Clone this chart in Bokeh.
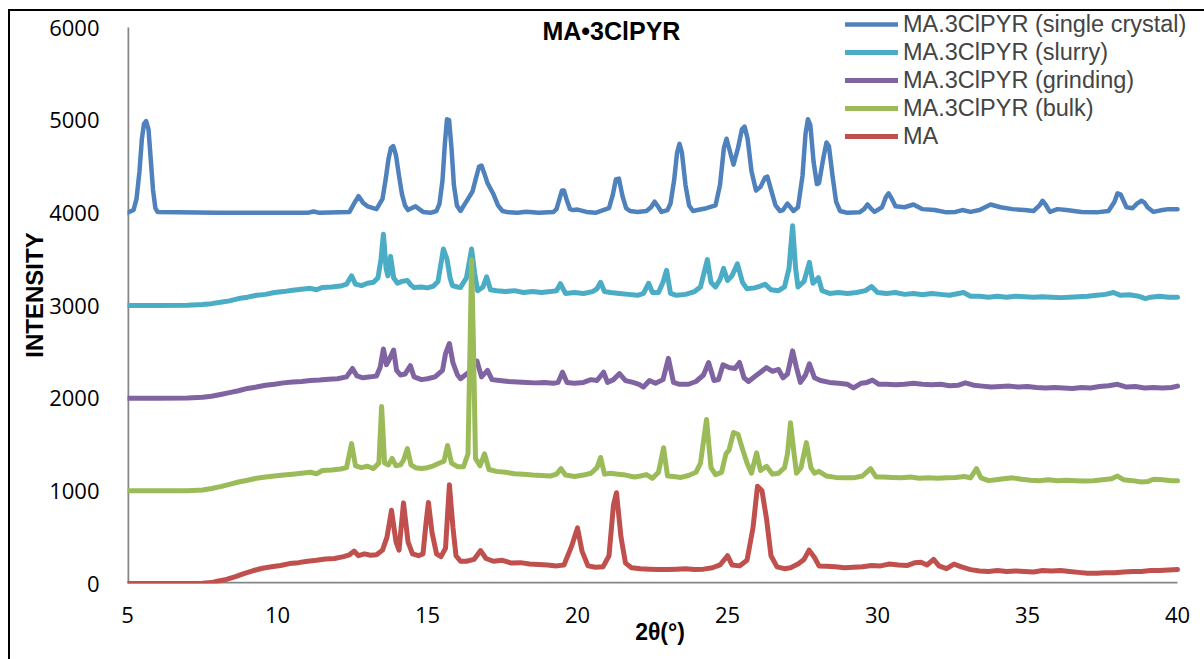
from bokeh.plotting import figure
from bokeh.models import Range1d, Legend, LegendItem, Label, FixedTicker
from bokeh.embed import file_html
from bokeh.resources import INLINE

# ---------------- data ----------------
x_ticks = [5, 10, 15, 20, 25, 30, 35, 40]
y_ticks = [0, 1000, 2000, 3000, 4000, 5000, 6000]

series_names = ["MA.3ClPYR (single crystal)", "MA.3ClPYR (slurry)",
                "MA.3ClPYR (grinding)", "MA.3ClPYR (bulk)", "MA"]
series_colors = ["#4F81BD", "#4BACC6", "#8064A2", "#9BBB59", "#C0504D"]

sc_x = [5.0, 5.2, 5.3, 5.4, 5.48, 5.55, 5.62, 5.7, 5.77, 5.85, 5.93, 6.0, 8.0, 11.0, 11.2, 11.4, 12.4, 12.55, 12.7,
        12.85, 13.0, 13.3, 13.5, 13.6, 13.7, 13.78, 13.86, 13.95, 14.05, 14.15, 14.25, 14.35, 14.6, 14.85, 15.1,
        15.3, 15.4, 15.5, 15.58, 15.65, 15.72, 15.8, 15.88, 15.98, 16.1, 16.35, 16.5, 16.62, 16.72, 16.8, 16.9,
        17.0, 17.2, 17.35, 17.5, 17.7, 18.0, 18.3, 18.7, 19.2, 19.3, 19.4, 19.48, 19.55, 19.65, 19.75, 19.85,
        20.0, 20.3, 20.6, 20.95, 21.05, 21.18, 21.28, 21.38, 21.5, 21.62, 21.75, 22.0, 22.3, 22.45, 22.57, 22.68,
        22.8, 23.0, 23.1, 23.22, 23.32, 23.4, 23.48, 23.6, 23.72, 23.85, 24.0, 24.3, 24.6, 24.75, 24.88, 24.97,
        25.05, 25.2, 25.35, 25.48, 25.57, 25.67, 25.8, 25.95, 26.1, 26.25, 26.33, 26.45, 26.6, 26.75, 26.85,
        27.0, 27.2, 27.35, 27.5, 27.6, 27.68, 27.76, 27.87, 27.98, 28.05, 28.2, 28.3, 28.38, 28.5, 28.62, 28.75,
        29.0, 29.4, 29.55, 29.67, 29.8, 29.9, 30.15, 30.28, 30.37, 30.48, 30.6, 30.9, 31.2, 31.5, 31.9, 32.3,
        32.6, 32.83, 33.1, 33.4, 33.77, 34.1, 34.5, 34.9, 35.2, 35.4, 35.5, 35.6, 35.75, 36.0, 36.3, 36.8, 37.3,
        37.7, 37.9, 38.0, 38.1, 38.3, 38.5, 38.65, 38.8, 38.9, 39.0, 39.2, 39.5, 39.7, 40.0]
sc_y = [4000, 4030, 4150, 4450, 4800, 4960, 4990, 4900, 4600, 4250, 4050, 4010, 4000, 4000, 4015, 4000, 4010, 4100, 4180,
        4110, 4070, 4040, 4150, 4350, 4580, 4700, 4720, 4620, 4400, 4200, 4080, 4030, 4070, 4010, 4000,
        4020, 4100, 4350, 4750, 5010, 5000, 4700, 4300, 4080, 4020, 4150, 4230, 4380, 4500, 4510, 4420,
        4320, 4200, 4080, 4020, 4005, 4000, 4012, 4000, 4010, 4040, 4150, 4240, 4240, 4130, 4040, 4030,
        4035, 4010, 4000, 4040, 4050, 4200, 4360, 4370, 4180, 4050, 4020, 4010, 4020, 4060, 4120, 4070,
        4010, 4030, 4100, 4350, 4650, 4745, 4650, 4300, 4080, 4020, 4030, 4050, 4080, 4300, 4700, 4800,
        4700, 4520, 4700, 4900, 4930, 4800, 4450, 4240, 4280, 4380, 4390, 4250, 4080, 4020, 4030,
        4100, 4020, 4060, 4400, 4850, 5010, 4950, 4550, 4310, 4320, 4600, 4760, 4720, 4400, 4120, 4020,
        4000, 4005, 4040, 4090, 4040, 4010, 4060, 4170, 4210, 4150, 4070, 4060, 4090, 4040, 4030, 4005,
        4010, 4030, 4010, 4030, 4090, 4060, 4040, 4030, 4020, 4080, 4130, 4090, 4010, 4040, 4030, 4010, 4005,
        4020, 4120, 4210, 4200, 4060, 4050, 4100, 4130, 4110, 4060, 4010, 4030, 4040, 4040]

sl_x = [5.0, 6.0, 7.0, 7.5, 7.8, 8.1, 8.4, 8.7, 9.0, 9.3, 9.6, 9.9, 10.2, 10.5, 10.8, 11.1, 11.3, 11.5, 11.8, 12.1,
        12.3, 12.47, 12.6, 12.8, 13.0, 13.2, 13.35, 13.45, 13.53, 13.62, 13.68, 13.77, 13.87, 14.0, 14.15, 14.33,
        14.45, 14.55, 14.8, 15.0, 15.2, 15.35, 15.53, 15.65, 15.75, 15.83, 16.0, 16.1, 16.3, 16.47, 16.57, 16.67,
        16.85, 16.97, 17.1, 17.3, 17.6, 17.9, 18.2, 18.5, 18.8, 19.1, 19.3, 19.43, 19.6, 19.9, 20.2, 20.5, 20.65,
        20.77, 20.9, 21.1, 21.4, 21.7, 22.0, 22.2, 22.37, 22.5, 22.7, 22.85, 22.97, 23.1, 23.3, 23.6, 23.9, 24.1,
        24.33, 24.45, 24.6, 24.75, 24.87, 25.0, 25.15, 25.33, 25.5, 25.65, 25.9, 26.1, 26.25, 26.45, 26.7, 26.9,
        27.05, 27.17, 27.27, 27.35, 27.55, 27.73, 27.85, 28.03, 28.15, 28.4, 28.7, 29.0, 29.3, 29.6, 29.8, 30.0,
        30.3, 30.6, 30.9, 31.2, 31.5, 31.8, 32.1, 32.4, 32.7, 32.87, 33.1, 33.4, 33.7, 34.0, 34.3, 34.6, 34.9,
        35.2, 35.5, 35.8, 36.1, 36.4, 36.7, 37.0, 37.3, 37.6, 37.87, 38.1, 38.4, 38.7, 38.93, 39.1, 39.4, 39.7, 40.0]
sl_y = [3000, 3000, 3002, 3010, 3020, 3035, 3050, 3075, 3090, 3110, 3120, 3140, 3150, 3165, 3175, 3185, 3170, 3195,
        3200, 3210, 3230, 3320, 3230, 3215, 3240, 3250, 3300, 3500, 3770, 3400, 3320, 3530, 3300, 3240, 3260,
        3270, 3220, 3195, 3200, 3190, 3210, 3260, 3610, 3500, 3300, 3215, 3200, 3195, 3300, 3610, 3350, 3160,
        3200, 3310, 3170, 3160, 3150, 3160, 3140, 3150, 3140, 3150, 3160, 3235, 3130, 3140, 3130, 3150, 3180,
        3250, 3150, 3140, 3130, 3120, 3110, 3130, 3240, 3140, 3140, 3250, 3380, 3130, 3110, 3120, 3150, 3200,
        3495, 3250, 3200, 3280, 3400, 3270, 3320, 3450, 3250, 3180, 3190, 3210, 3230, 3170, 3160, 3200,
        3400, 3860, 3400, 3200, 3260, 3465, 3240, 3300, 3160, 3130, 3140, 3130, 3140, 3160, 3205, 3140,
        3130, 3140, 3120, 3130, 3115, 3130, 3120, 3110, 3130, 3140, 3100, 3100, 3090, 3100, 3090, 3100, 3095,
        3090, 3095, 3090, 3085, 3090, 3095, 3100, 3110, 3120, 3140, 3110, 3115, 3100, 3075, 3090, 3100, 3090, 3090]

gr_x = [5.0, 6.0, 7.0, 7.5, 7.8, 8.1, 8.4, 8.7, 9.0, 9.3, 9.6, 9.9, 10.2, 10.5, 10.8, 11.1, 11.4, 11.7, 12.0, 12.3,
        12.5, 12.65, 12.85, 13.1, 13.3, 13.42, 13.53, 13.63, 13.7, 13.87, 13.97, 14.1, 14.25, 14.43, 14.55, 14.8,
        15.0, 15.25, 15.5, 15.6, 15.73, 15.85, 16.0, 16.1, 16.3, 16.45, 16.65, 16.8, 17.0, 17.15, 17.4, 17.7, 18.0,
        18.3, 18.6, 18.9, 19.2, 19.35, 19.5, 19.65, 19.9, 20.2, 20.45, 20.65, 20.87, 21.0, 21.2, 21.4, 21.6, 21.85,
        22.05, 22.2, 22.4, 22.6, 22.85, 23.03, 23.2, 23.4, 23.7, 23.95, 24.2, 24.37, 24.55, 24.7, 24.85, 25.05,
        25.25, 25.4, 25.55, 25.7, 25.9, 26.1, 26.3, 26.5, 26.7, 26.85, 27.0, 27.17, 27.3, 27.43, 27.6, 27.73, 27.9,
        28.1, 28.4, 28.7, 29.0, 29.2, 29.45, 29.65, 29.83, 30.05, 30.3, 30.6, 30.9, 31.2, 31.5, 31.8, 32.1, 32.4,
        32.7, 32.93, 33.2, 33.5, 33.8, 34.1, 34.4, 34.7, 35.0, 35.3, 35.6, 35.9, 36.2, 36.5, 36.8, 37.1, 37.4,
        37.7, 38.0, 38.3, 38.6, 38.9, 39.2, 39.5, 39.8, 40.0]
gr_y = [2000, 2000, 2003, 2010, 2020, 2040, 2060, 2080, 2105, 2120, 2140, 2150, 2165, 2175, 2180, 2190, 2195, 2205,
        2210, 2230, 2320, 2240, 2220, 2230, 2240, 2330, 2530, 2360, 2400, 2520, 2300, 2250, 2260, 2350, 2230,
        2200, 2210, 2230, 2300, 2480, 2590, 2380, 2250, 2210, 2260, 2300, 2400, 2230, 2300, 2200, 2190, 2180,
        2175, 2170, 2165, 2170, 2160, 2170, 2280, 2170, 2160, 2170, 2200, 2190, 2280, 2170, 2200, 2265, 2190,
        2170, 2150, 2120, 2190, 2160, 2200, 2430, 2170, 2150, 2150, 2180, 2250, 2385, 2190, 2200, 2360, 2330,
        2320, 2385, 2220, 2180, 2230, 2280, 2330, 2290, 2310, 2220, 2260, 2510, 2330, 2170, 2250, 2370, 2220,
        2190, 2170, 2160, 2150, 2110, 2160, 2170, 2195, 2150, 2150, 2145, 2150, 2160, 2150, 2145, 2150, 2135,
        2140, 2165, 2140, 2130, 2120, 2125, 2130, 2120, 2125, 2115, 2110, 2115, 2110, 2105, 2115, 2110, 2125,
        2135, 2150, 2120, 2125, 2110, 2115, 2110, 2115, 2130]

bk_x = [5.0, 6.0, 7.0, 7.5, 7.8, 8.1, 8.4, 8.7, 9.0, 9.3, 9.6, 9.9, 10.2, 10.5, 10.8, 11.1, 11.3, 11.5, 11.8, 12.1,
        12.3, 12.47, 12.6, 12.8, 13.0, 13.2, 13.38, 13.47, 13.57, 13.7, 13.82, 13.95, 14.1, 14.2, 14.33, 14.45,
        14.6, 14.8, 15.0, 15.2, 15.4, 15.55, 15.67, 15.8, 16.0, 16.2, 16.35, 16.42, 16.47, 16.53, 16.6, 16.75,
        16.9, 17.05, 17.3, 17.6, 17.9, 18.2, 18.5, 18.8, 19.1, 19.3, 19.45, 19.6, 19.9, 20.2, 20.45, 20.65, 20.77,
        20.9, 21.1, 21.35, 21.6, 21.9, 22.1, 22.3, 22.5, 22.7, 22.87, 23.0, 23.2, 23.45, 23.7, 23.95, 24.1, 24.3,
        24.45, 24.6, 24.8, 24.95, 25.05, 25.2, 25.35, 25.5, 25.65, 25.8, 25.97, 26.1, 26.3, 26.5, 26.7, 26.9,
        27.0, 27.1, 27.22, 27.3, 27.45, 27.63, 27.78, 27.9, 28.05, 28.3, 28.6, 28.9, 29.2, 29.5, 29.77, 29.95,
        30.2, 30.5, 30.8, 31.1, 31.4, 31.7, 32.0, 32.3, 32.6, 32.9, 33.1, 33.3, 33.45, 33.7, 33.95, 34.2, 34.5,
        34.8, 35.1, 35.4, 35.7, 36.0, 36.3, 36.6, 36.9, 37.2, 37.5, 37.8, 38.0, 38.2, 38.5, 38.8, 39.0, 39.2,
        39.5, 39.8, 40.0]
bk_y = [1000, 1000, 1002, 1010, 1025, 1045, 1070, 1095, 1115, 1135, 1150, 1160, 1170, 1180, 1190, 1200, 1185, 1220,
        1225, 1235, 1250, 1510, 1270, 1250, 1265, 1240, 1300, 1910, 1300, 1280, 1350, 1270, 1280, 1330, 1455,
        1280, 1250, 1240, 1250, 1270, 1300, 1320, 1490, 1300, 1260, 1260, 1400, 2600, 3490, 2600, 1350, 1270,
        1400, 1230, 1210, 1200, 1185, 1180, 1170, 1165, 1160, 1180, 1240, 1170, 1155, 1170, 1190, 1250, 1360,
        1180, 1190, 1180, 1170, 1150, 1160, 1175, 1135, 1200, 1465, 1160, 1155, 1145, 1165, 1200, 1300, 1770,
        1250, 1175, 1200, 1400, 1440, 1630, 1610, 1450, 1300, 1190, 1410, 1220, 1265, 1180, 1190, 1250,
        1400, 1735, 1400, 1190, 1250, 1520, 1250, 1190, 1210, 1160, 1145, 1140, 1140, 1160, 1240, 1150,
        1150, 1145, 1140, 1150, 1135, 1140, 1135, 1140, 1145, 1155, 1140, 1240, 1140, 1110, 1120, 1130, 1140,
        1125, 1115, 1110, 1120, 1110, 1115, 1110, 1105, 1110, 1120, 1130, 1160, 1120, 1110, 1095, 1100, 1125,
        1120, 1110, 1110]

ma_x = [5.0, 6.0, 7.0, 7.5, 7.8, 8.0, 8.3, 8.6, 8.9, 9.2, 9.5, 9.8, 10.1, 10.4, 10.7, 11.0, 11.3, 11.6, 11.9, 12.2,
        12.4, 12.55, 12.7, 12.9, 13.1, 13.3, 13.5, 13.65, 13.8, 13.95, 14.05, 14.2, 14.35, 14.5, 14.7, 14.85,
        14.95, 15.03, 15.15, 15.3, 15.45, 15.6, 15.73, 15.85, 15.95, 16.1, 16.3, 16.55, 16.77, 16.95, 17.2, 17.5,
        17.8, 18.1, 18.4, 18.7, 19.0, 19.3, 19.55, 19.8, 20.0, 20.15, 20.35, 20.6, 20.85, 21.05, 21.2, 21.3,
        21.45, 21.6, 21.8, 22.1, 22.4, 22.7, 23.0, 23.3, 23.6, 23.9, 24.2, 24.5, 24.75, 25.0, 25.15, 25.4,
        25.65, 25.85, 26.0, 26.15, 26.3, 26.45, 26.65, 26.9, 27.1, 27.35, 27.55, 27.72, 27.9, 28.05, 28.3, 28.6,
        28.9, 29.2, 29.5, 29.8, 30.1, 30.4, 30.7, 31.0, 31.25, 31.45, 31.65, 31.87, 32.05, 32.3, 32.55, 32.8,
        33.1, 33.4, 33.7, 34.0, 34.3, 34.6, 34.9, 35.2, 35.5, 35.8, 36.1, 36.4, 36.7, 37.0, 37.3, 37.6, 37.9,
        38.2, 38.5, 38.8, 39.1, 39.4, 39.7, 40.0]
ma_y = [0, 0, 0, 3, 10, 25, 45, 75, 110, 140, 165, 180, 195, 215, 225, 240, 250, 265, 270, 290,
        310, 350, 300, 320, 305, 310, 360, 500, 790, 450, 360, 870, 450, 320, 300, 320,
        650, 875, 550, 320, 290, 380, 1065, 600, 300, 240, 240, 260, 355, 270, 240, 250,
        220, 225, 210, 205, 200, 190, 200, 400, 600, 350, 190, 175, 180, 300, 850, 980,
        500, 220, 170, 160, 155, 150, 150, 155, 160, 150, 155, 170, 200, 300, 200, 190,
        250, 600, 1050, 1000, 700, 300, 180, 160, 170, 210, 260, 360, 280, 190, 185, 180,
        170, 175, 180, 195, 190, 210, 200, 195, 225, 230, 200, 260, 190, 160, 210, 180,
        150, 135, 130, 140, 130, 135, 130, 125, 140, 135, 140, 130, 120, 110, 110, 115, 115,
        125, 130, 130, 140, 140, 145, 150]

series_x = [sc_x, sl_x, gr_x, bk_x, ma_x]
series_y = [sc_y, sl_y, gr_y, bk_y, ma_y]
series_widths = [4.5, 5, 5, 5, 5]

# ---------------- layout geometry ----------------
W, H = 1204, 659
BORDER_L, BORDER_B = 127, 76
FRAME_TOP, FRAME_RIGHT = 6, 1192       # frame a bit larger than the axes, so texts are not clipped
AXIS_TOP_PX, AXIS_RIGHT_PX = 27, 1177  # pixel where 6000 / 40 sit
frame_h = H - BORDER_B - FRAME_TOP
frame_w = FRAME_RIGHT - BORDER_L
y_top = y_ticks[-1] * frame_h / (frame_h - (AXIS_TOP_PX - FRAME_TOP))
x_right = x_ticks[0] + (x_ticks[-1] - x_ticks[0]) * frame_w / (AXIS_RIGHT_PX - BORDER_L)

p = figure(width=W, height=H, title=None,
           x_range=Range1d(x_ticks[0], x_right), y_range=Range1d(y_ticks[0], y_top),
           output_backend="svg", toolbar_location=None,
           min_border_left=BORDER_L, min_border_right=W - FRAME_RIGHT, min_border_top=FRAME_TOP,
           min_border_bottom=BORDER_B)
p.outline_line_color = None
p.background_fill_color = "white"
p.border_fill_color = "white"
p.xgrid.visible = False
p.ygrid.visible = False

for ax in (p.xaxis[0], p.yaxis[0]):
    ax.axis_line_color = None           # axis lines drawn below, only over the data span
    ax.major_tick_line_color = None
    ax.minor_tick_line_color = None
    ax.major_label_text_font = "Open Sans"
    ax.major_label_text_font_size = "22px"
    ax.major_label_text_color = "black"
    ax.axis_label_text_font = "Liberation Sans"
    ax.axis_label_text_font_style = "bold"
    ax.axis_label_text_color = "black"

p.xaxis[0].ticker = FixedTicker(ticks=x_ticks)
p.yaxis[0].ticker = FixedTicker(ticks=y_ticks)
p.xaxis[0].major_label_standoff = 17
p.yaxis[0].major_label_standoff = 22
p.xaxis[0].axis_label = "2θ(°)"
p.xaxis[0].axis_label_text_font_size = "23px"
p.xaxis[0].axis_label_standoff = -7
p.yaxis[0].axis_label = "INTENSITY"
p.yaxis[0].axis_label_text_font_size = "24px"
p.yaxis[0].axis_label_standoff = -2

# axis lines: y from 0 to 6000 at x=5, x from 5 to 40 at y=0
p.segment(x0=[x_ticks[0], x_ticks[0]], y0=[y_ticks[0], y_ticks[0]],
          x1=[x_ticks[0], x_ticks[-1]], y1=[y_ticks[-1], y_ticks[0]],
          line_color="#868686", line_width=3.5)

renderers = []
for xs, ys, c, w in zip(series_x, series_y, series_colors, series_widths):
    r = p.line(xs, ys, line_color=c, line_width=w, line_join="round", line_cap="round")
    renderers.append(r)

legend = Legend(items=[LegendItem(label=n, renderers=[r]) for n, r in zip(series_names, renderers)],
                location=(718, 433), margin=0, padding=0, spacing=0,
                glyph_width=53, glyph_height=28, label_height=28, label_standoff=5,
                label_text_font="Liberation Sans", label_text_font_size="23.5px",
                background_fill_alpha=0, border_line_color=None)
p.add_layout(legend)

title = Label(x=21.13, y=5957, text="MA•3ClPYR", text_align="center", text_baseline="middle",
              text_font="Liberation Sans", text_font_style="bold", text_font_size="25px",
              text_color="black")
p.add_layout(title)

html = file_html(p, INLINE)
css = ("<style>html,body{margin:0;padding:0;}"
       "body::after{content:'';position:fixed;left:8px;top:9px;right:-4px;bottom:-4px;"
       "border-left:2px solid #000;border-top:2px solid #000;pointer-events:none;z-index:1000;}</style>")
html = html.replace("</head>", css + "</head>", 1)
open("out.html", "w").write(html)
